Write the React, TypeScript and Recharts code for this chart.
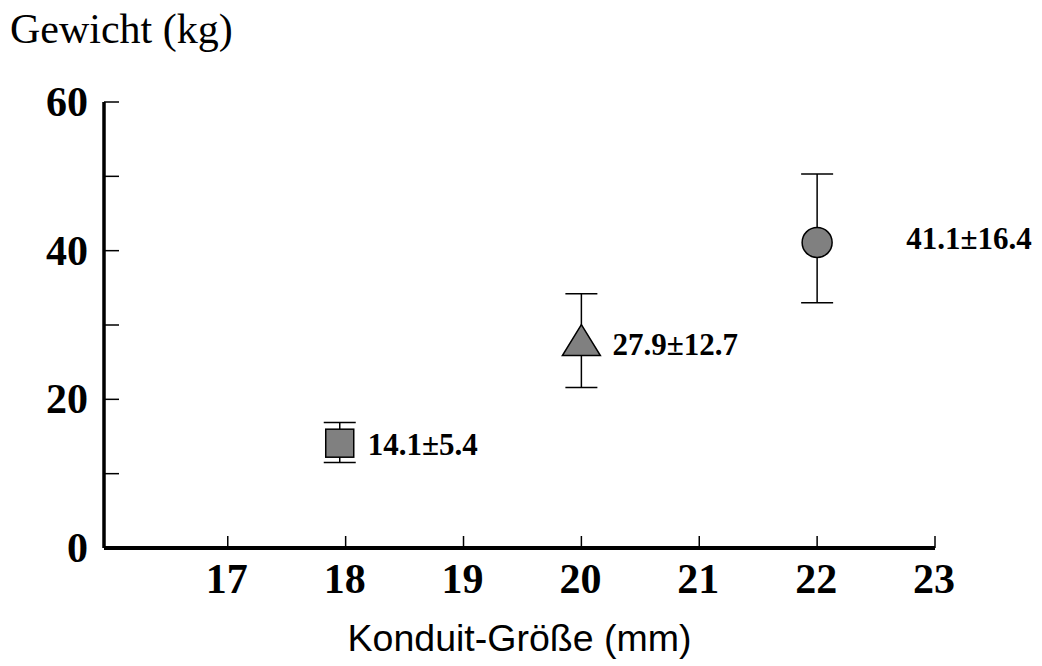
import { ScatterChart, Scatter, XAxis, YAxis, ErrorBar } from "recharts"

// Konduit-Größe (mm) per group
const sizes = [17.95, 20, 22]
// mean weight (kg)
const weights = [14.1, 27.9, 41.1]
// error bar extent as drawn, below / above the mean
const errLow = [2.6, 6.3, 8.1]
const errHigh = [2.8, 6.3, 9.2]
const pointLabels = ["14.1±5.4", "27.9±12.7", "41.1±16.4"]

const xTicks = [17, 18, 19, 20, 21, 22, 23]
const yTicks = [0, 10, 20, 30, 40, 50, 60]
const yLabelTicks = [0, 20, 40, 60]

const rows = sizes.map((size, i) => ({
  size,
  weight: weights[i],
  err: [errLow[i], errHigh[i]],
  label: pointLabels[i],
}))

const serif = "'Liberation Serif', 'Times New Roman', serif"
const sans = "'Liberation Sans', Arial, sans-serif"
const markerFill = "#808080"

function Marker(props: any) {
  const { cx, cy, payload, kind, dx, dy } = props
  let mark
  if (kind === "square") {
    mark = <rect x={cx - 14} y={cy - 14} width={28} height={28} fill={markerFill} stroke="#000" strokeWidth={1.5} />
  } else if (kind === "triangle") {
    mark = (
      <polygon
        points={`${cx},${cy - 16} ${cx - 19},${cy + 15} ${cx + 19},${cy + 15}`}
        fill={markerFill}
        stroke="#000"
        strokeWidth={1.5}
      />
    )
  } else {
    mark = <circle cx={cx} cy={cy} r={15} fill={markerFill} stroke="#000" strokeWidth={1.5} />
  }
  return (
    <g>
      {mark}
      <text x={cx + dx} y={cy + dy} fontFamily={serif} fontWeight="bold" fontSize={31} fill="#000">
        {payload.label}
      </text>
    </g>
  )
}

function XTick(props: any) {
  const { x, y, payload } = props
  return (
    <g>
      <line x1={x} y1={y} x2={x} y2={y - 12} stroke="#000" strokeWidth={1.5} />
      <text x={x - 1} y={y + 45} textAnchor="middle" fontFamily={serif} fontWeight="bold" fontSize={42} fill="#000">
        {payload.value}
      </text>
    </g>
  )
}

function YTick(props: any) {
  const { x, y, payload } = props
  return (
    <g>
      <line x1={x} y1={y} x2={x + 15} y2={y} stroke="#000" strokeWidth={1.5} />
      {yLabelTicks.includes(payload.value) && (
        <text x={x - 16} y={y + 14} textAnchor="end" fontFamily={serif} fontWeight="bold" fontSize={42} fill="#000">
          {payload.value}
        </text>
      )}
    </g>
  )
}

function YTitle() {
  return (
    <text x={10} y={43} fontFamily={serif} fontSize={42} fill="#000">
      Gewicht (kg)
    </text>
  )
}

function XTitle() {
  return (
    <text x={519.5} y={651} textAnchor="middle" fontFamily={sans} fontSize={37.5} fill="#000">
      Konduit-Größe (mm)
    </text>
  )
}

export default function App() {
  return (
    <div style={{ position: "absolute", left: 0, top: 0, background: "#fff" }}>
      <ScatterChart width={1042} height={666} margin={{ top: 102, right: 107, bottom: 117, left: 103 }}>
        <XAxis
          type="number"
          dataKey="size"
          domain={[15.95, 23]}
          ticks={xTicks}
          height={1}
          tickSize={0}
          tickMargin={0}
          tick={<XTick />}
          axisLine={{ stroke: "#000", strokeWidth: 4 }}
          tickLine={false}
          label={<XTitle />}
        />
        <YAxis
          type="number"
          dataKey="weight"
          domain={[0, 60]}
          ticks={yTicks}
          width={1}
          tickSize={0}
          tickMargin={0}
          tick={<YTick />}
          axisLine={{ stroke: "#000", strokeWidth: 3.5 }}
          tickLine={false}
          label={<YTitle />}
        />
        <Scatter data={[rows[0]]} isAnimationActive={false} shape={(p: any) => <Marker {...p} kind="square" dx={28} dy={12} />}>
          <ErrorBar dataKey="err" direction="y" width={16} stroke="#000" strokeWidth={1.5} />
        </Scatter>
        <Scatter data={[rows[1]]} isAnimationActive={false} shape={(p: any) => <Marker {...p} kind="triangle" dx={31} dy={14} />}>
          <ErrorBar dataKey="err" direction="y" width={16} stroke="#000" strokeWidth={1.5} />
        </Scatter>
        <Scatter data={[rows[2]]} isAnimationActive={false} shape={(p: any) => <Marker {...p} kind="circle" dx={89} dy={7} />}>
          <ErrorBar dataKey="err" direction="y" width={16} stroke="#000" strokeWidth={1.5} />
        </Scatter>
      </ScatterChart>
    </div>
  )
}
